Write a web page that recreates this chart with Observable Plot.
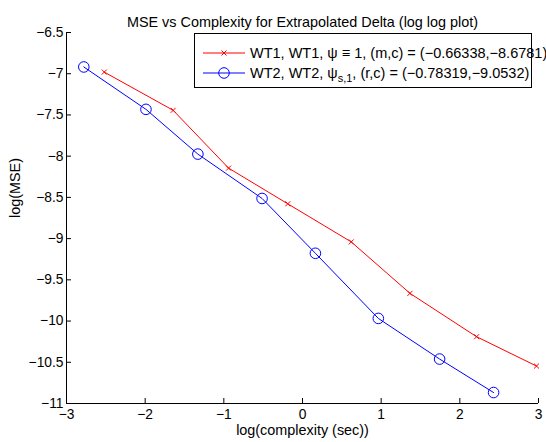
<!DOCTYPE html>
<html>
<head>
<meta charset="utf-8">
<script src="https://cdn.jsdelivr.net/npm/d3@7"></script>
<script src="https://cdn.jsdelivr.net/npm/@observablehq/plot@0.6"></script>
<style>
  html, body { margin: 0; padding: 0; background: #fff; }
</style>
</head>
<body>
<div id="chart"></div>
<script>
const titleText = "MSE vs Complexity for Extrapolated Delta (log log plot)";
const xLabel = "log(complexity (sec))";
const yLabel = "log(MSE)";

const xTicks = [-3, -2, -1, 0, 1, 2, 3];
const yTicks = [-11, -10.5, -10, -9.5, -9, -8.5, -8, -7.5, -7, -6.5];

const redX = [-2.52, -1.644, -0.94, -0.187, 0.62, 1.366, 2.213, 2.975];
const redY = [-6.98, -7.444, -8.145, -8.578, -9.04, -9.664, -10.19, -10.546];
const blueX = [-2.78, -1.99, -1.33, -0.514, 0.164, 0.964, 1.743, 2.429];
const blueY = [-6.918, -7.432, -7.975, -8.513, -9.178, -9.968, -10.461, -10.867];

const legendRed = "WT1, WT1, ψ ≡ 1, (m,c) = (−0.66338,−8.6781)";
const legendBlueA = "WT2, WT2, ψ";
const legendBlueSub = "s,1";
const legendBlueB = ", (r,c) = (−0.78319,−9.0532)";

const red = redX.map((x, i) => ({x, y: redY[i]}));
const blue = blueX.map((x, i) => ({x, y: blueY[i]}));

const W = 546, H = 442;
const mT = 32, mB = 39, mL = 66, mR = 8;
const innerW = W - mL - mR, innerH = H - mT - mB;
const font = "'Liberation Sans', Arial, Helvetica, sans-serif";
const fmt = d3.format("");

const chart = Plot.plot({
  width: W,
  height: H,
  marginTop: mT,
  marginBottom: mB,
  marginLeft: mL,
  marginRight: mR,
  style: {fontFamily: font, fontSize: "14px", background: "#fff", color: "#000"},
  x: {domain: [-3, 3]},
  y: {domain: [-11, -6.5]},
  marks: [
    Plot.axisX(xTicks, {tickSize: 0, tickPadding: 6, label: null, tickFormat: fmt, fontSize: 13.8}),
    Plot.axisY(yTicks, {tickSize: 0, tickPadding: 3, label: null, tickFormat: fmt, fontSize: 13.8}),
    Plot.tickX(xTicks, {x: d => d, insetTop: innerH - 5, stroke: "#000"}),
    Plot.tickY(yTicks, {y: d => d, insetRight: innerW - 5, stroke: "#000"}),
    Plot.ruleX([-3], {stroke: "#000"}),
    Plot.ruleY([-11], {stroke: "#000"}),
    Plot.line(red, {x: "x", y: "y", stroke: "#ff0000", strokeWidth: 1}),
    Plot.dot(red, {x: "x", y: "y", symbol: "times", r: 2.4, stroke: "#ff0000", strokeWidth: 1}),
    Plot.line(blue, {x: "x", y: "y", stroke: "#0000ff", strokeWidth: 1}),
    Plot.dot(blue, {x: "x", y: "y", symbol: "circle", r: 5.3, stroke: "#0000ff", fill: "none", strokeWidth: 1}),
    Plot.text([titleText], {frameAnchor: "top", dy: -16, text: d => d, fontSize: 14.4, fill: "#000"}),
    Plot.text([xLabel], {frameAnchor: "bottom", dy: 31, text: d => d, fontSize: 14.4, fill: "#000"}),
    Plot.text([yLabel], {frameAnchor: "left", dx: -51, rotate: -90, text: d => d, fontSize: 14.4, fill: "#000"})
  ]
});

document.getElementById("chart").appendChild(chart);

// Legend (MATLAB style box, top right)
const svg = d3.select(chart);
const lg = svg.append("g").attr("font-family", font).attr("font-size", 14.5).attr("text-anchor", "start");
const bx = 194, by = 33, bw = 337, bh = 54;
lg.append("rect").attr("x", bx + 0.5).attr("y", by + 0.5).attr("width", bw).attr("height", bh)
  .attr("fill", "#fff").attr("stroke", "#000").attr("stroke-width", 1);
const rows = [
  {color: "#ff0000", sym: "times", y: 53},
  {color: "#0000ff", sym: "circle", y: 73}
];
rows.forEach((r) => {
  lg.append("line").attr("x1", 203).attr("x2", 245).attr("y1", r.y).attr("y2", r.y)
    .attr("stroke", r.color).attr("stroke-width", 1);
  if (r.sym === "times") {
    lg.append("path").attr("d", d3.symbol(d3.symbolTimes, 2.4 * 2.4 * Math.PI)())
      .attr("transform", `translate(224,${r.y})`).attr("stroke", r.color).attr("fill", "none");
  } else {
    lg.append("circle").attr("cx", 224).attr("cy", r.y).attr("r", 5.3)
      .attr("stroke", r.color).attr("fill", "none");
  }
});
lg.append("text").attr("x", 250).attr("y", 53).attr("dy", "0.35em").attr("fill", "#000").text(legendRed);
const t2 = lg.append("text").attr("x", 250).attr("y", 73).attr("dy", "0.35em").attr("fill", "#000");
t2.append("tspan").text(legendBlueA);
t2.append("tspan").attr("font-size", 11).attr("dy", "0.35em").text(legendBlueSub);
t2.append("tspan").attr("dy", "-0.3em").text(legendBlueB);
</script>
</body>
</html>
